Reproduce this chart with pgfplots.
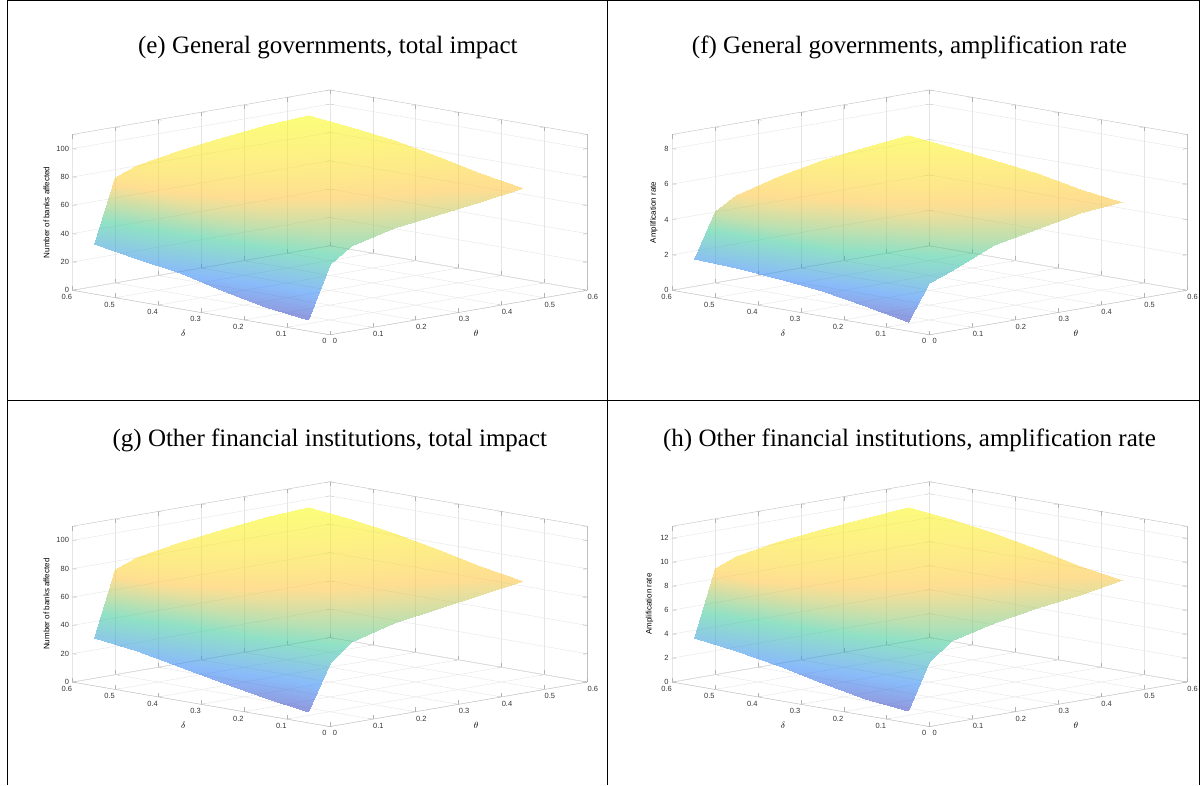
\documentclass[border=0pt]{standalone}
\usepackage{pgfplots}
\pgfplotsset{compat=1.18}
\usepackage{fontspec}
\setmainfont{Liberation Serif}
\newfontfamily\sansf{Liberation Sans}
\begin{document}
\begin{tikzpicture}
\pgfplotsset{
  panel/.style={
    view={-45}{22}, scale only axis, width=515pt, height=245pt,
    xmin=0,xmax=0.6,ymin=0,ymax=0.6,
    xtick={0,0.1,...,0.6}, ytick={0,0.1,...,0.6},
    grid=major, major grid style={gray!20}, axis line style={gray!50},
    tick style={gray!60},
    ticklabel style={font=\sansf\fontsize{7.5}{8}\selectfont, text=black!80},
    /pgf/number format/assume math mode=true,
    xlabel={$\theta$}, ylabel={$\delta$},
    label style={font=\fontsize{9}{10}\selectfont},
    zlabel style={font=\sansf\fontsize{8}{9}\selectfont},
    colormap={parula}{rgb255=(62,38,168) rgb255=(40,130,245) rgb255=(53,200,150) rgb255=(254,195,56) rgb255=(249,251,14)},
    anchor=center,
  },
  srf/.style={surf, shader=interp, opacity=0.55, mesh/cols=7},
}
\path (0pt,0pt) rectangle (1201pt,-785pt);
\draw[line width=1pt] (8pt,0pt) -- (1201pt,0pt);
\draw[line width=1pt] (8pt,0pt) -- (8pt,-785pt);
\draw[line width=1pt] (608pt,0pt) -- (608pt,-785pt);
\draw[line width=1pt] (8pt,-400pt) -- (1201pt,-400pt);
\draw[line width=1pt] (1200pt,0pt) -- (1200pt,-785pt);
\node[font=\fontsize{25}{30}\selectfont] at (328pt,-47pt) {(e) General governments, total impact};
\node[font=\fontsize{25}{30}\selectfont] at (910pt,-47pt) {(f) General governments, amplification rate};
\node[font=\fontsize{25}{30}\selectfont] at (330pt,-440pt) {(g) Other financial institutions, total impact};
\node[font=\fontsize{25}{30}\selectfont] at (910pt,-440pt) {(h) Other financial institutions, amplification rate};
\coordinate (pe) at (330pt,-212pt);
\coordinate (pf) at (930pt,-212pt);
\coordinate (pg) at (330pt,-604pt);
\coordinate (ph) at (930pt,-604pt);

\begin{axis}[panel, at={(pe)}, zmin=0, zmax=110, ztick={0,20,...,100},
  zlabel={Number of banks affected}, point meta min=0, point meta max=100]
\addplot3[srf] table {
x y z
0 0.05 8
0.05 0.05 45
0.1 0.05 55
0.2 0.05 62
0.3 0.05 66
0.4 0.05 70
0.5 0.05 75
0 0.15 12
0.05 0.15 52
0.1 0.15 62
0.2 0.15 70
0.3 0.15 74
0.4 0.15 77
0.5 0.15 80
0 0.25 18
0.05 0.25 60
0.1 0.25 70
0.2 0.25 78
0.3 0.25 82
0.4 0.25 85
0.5 0.25 87
0 0.35 25
0.05 0.35 68
0.1 0.35 77
0.2 0.35 84
0.3 0.35 88
0.4 0.35 91
0.5 0.35 93
0 0.45 30
0.05 0.45 75
0.1 0.45 82
0.2 0.45 88
0.3 0.45 92
0.4 0.45 95
0.5 0.45 97
0 0.55 35
0.05 0.55 80
0.1 0.55 86
0.2 0.55 91
0.3 0.55 95
0.4 0.55 98
0.5 0.55 100
};
\end{axis}

\begin{axis}[panel, at={(pf)}, zmin=0, zmax=8.8, ztick={0,2,...,8},
  zlabel={Amplification rate}, point meta min=0, point meta max=7]
\addplot3[srf] table {
x y z
0 0.05 0.5
0.05 0.05 2.5
0.1 0.05 3.0
0.2 0.05 4.0
0.3 0.05 4.5
0.4 0.05 5.0
0.5 0.05 5.2
0 0.15 1.0
0.05 0.15 3.0
0.1 0.15 3.5
0.2 0.15 4.5
0.3 0.15 5.0
0.4 0.15 5.3
0.5 0.15 5.5
0 0.25 1.4
0.05 0.25 3.5
0.1 0.25 4.0
0.2 0.25 5.0
0.3 0.25 5.4
0.4 0.25 5.7
0.5 0.25 6.0
0 0.35 1.7
0.05 0.35 4.0
0.1 0.35 4.5
0.2 0.35 5.3
0.3 0.35 5.8
0.4 0.35 6.0
0.5 0.35 6.3
0 0.45 1.9
0.05 0.45 4.3
0.1 0.45 5.0
0.2 0.45 5.6
0.3 0.45 6.0
0.4 0.45 6.3
0.5 0.45 6.6
0 0.55 2.0
0.05 0.55 4.5
0.1 0.55 5.2
0.2 0.55 5.8
0.3 0.55 6.3
0.4 0.55 6.6
0.5 0.55 6.9
};
\end{axis}

\begin{axis}[panel, at={(pg)}, zmin=0, zmax=110, ztick={0,20,...,100},
  zlabel={Number of banks affected}, point meta min=0, point meta max=100]
\addplot3[srf] table {
x y z
0 0.05 8
0.05 0.05 40
0.1 0.05 52
0.2 0.05 60
0.3 0.05 65
0.4 0.05 69
0.5 0.05 74
0 0.15 12
0.05 0.15 48
0.1 0.15 60
0.2 0.15 69
0.3 0.15 73
0.4 0.15 76
0.5 0.15 79
0 0.25 18
0.05 0.25 57
0.1 0.25 68
0.2 0.25 77
0.3 0.25 81
0.4 0.25 84
0.5 0.25 86
0 0.35 24
0.05 0.35 66
0.1 0.35 76
0.2 0.35 83
0.3 0.35 87
0.4 0.35 90
0.5 0.35 92
0 0.45 30
0.05 0.45 74
0.1 0.45 82
0.2 0.45 88
0.3 0.45 92
0.4 0.45 95
0.5 0.45 97
0 0.55 34
0.05 0.55 80
0.1 0.55 86
0.2 0.55 91
0.3 0.55 95
0.4 0.55 98
0.5 0.55 100
};
\end{axis}

\begin{axis}[panel, at={(ph)}, zmin=0, zmax=13, ztick={0,2,...,12},
  zlabel={Amplification rate}, point meta min=0, point meta max=12]
\addplot3[srf] table {
x y z
0 0.05 1.0
0.05 0.05 4.8
0.1 0.05 6.2
0.2 0.05 7.1
0.3 0.05 7.7
0.4 0.05 8.2
0.5 0.05 8.8
0 0.15 1.4
0.05 0.15 5.7
0.1 0.15 7.1
0.2 0.15 8.2
0.3 0.15 8.7
0.4 0.15 9.0
0.5 0.15 9.4
0 0.25 2.1
0.05 0.25 6.8
0.1 0.25 8.1
0.2 0.25 9.2
0.3 0.25 9.6
0.4 0.25 10.0
0.5 0.25 10.2
0 0.35 2.9
0.05 0.35 7.9
0.1 0.35 9.0
0.2 0.35 9.9
0.3 0.35 10.3
0.4 0.35 10.7
0.5 0.35 10.9
0 0.45 3.5
0.05 0.45 8.8
0.1 0.45 9.7
0.2 0.45 10.4
0.3 0.45 10.9
0.4 0.45 11.2
0.5 0.45 11.4
0 0.55 4.0
0.05 0.55 9.5
0.1 0.55 10.2
0.2 0.55 10.8
0.3 0.55 11.2
0.4 0.55 11.5
0.5 0.55 11.8
};
\end{axis}
\end{tikzpicture}
\end{document}
